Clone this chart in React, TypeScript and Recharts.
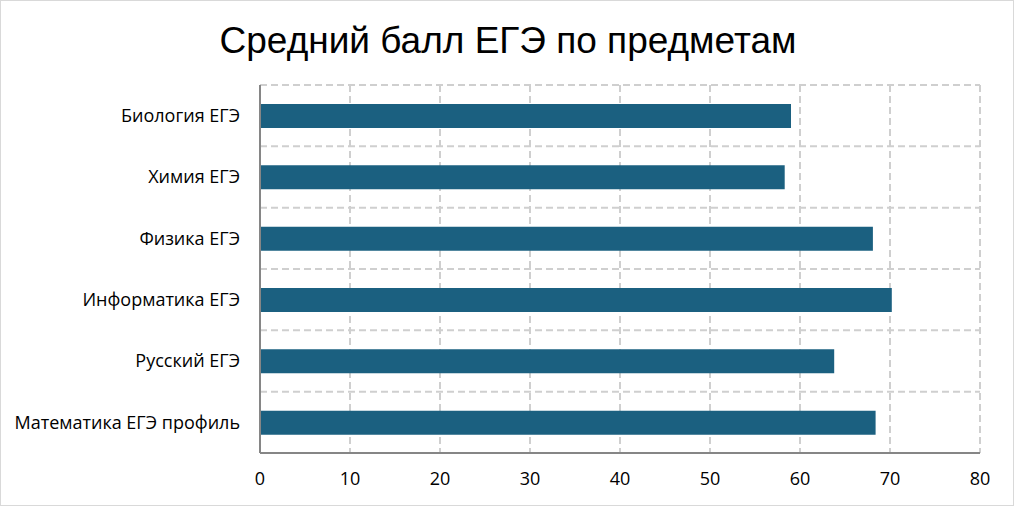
import React from "react";
import { BarChart, Bar, XAxis, YAxis, CartesianGrid } from "recharts";

const categories = [
  "Биология ЕГЭ",
  "Химия ЕГЭ",
  "Физика ЕГЭ",
  "Информатика ЕГЭ",
  "Русский ЕГЭ",
  "Математика ЕГЭ профиль",
];
const scores = [59.0, 58.3, 68.1, 70.2, 63.8, 68.4];
const xTicks = [0, 10, 20, 30, 40, 50, 60, 70, 80];
const title = "Средний балл ЕГЭ по предметам";

const data = categories.map((name, i) => ({ name, value: scores[i] }));

const W = 1014;
const H = 506;

export default function App() {
  return (
    <div
      style={{
        position: "fixed",
        left: 0,
        top: 0,
        width: W,
        height: H,
        background: "#fff",
        boxSizing: "border-box",
        border: "1px solid #d9d9d9",
      }}
    >
      <div
        style={{
          position: "absolute",
          left: 0,
          top: 14,
          width: W,
          textAlign: "center",
          fontFamily: "'Liberation Sans', Arial, sans-serif",
          fontSize: 37,
          color: "#000",
          lineHeight: "52px",
        }}
      >
        {title}
      </div>
      <div style={{ position: "absolute", left: -1, top: -1 }}>
        <BarChart
          width={W}
          height={H}
          data={data}
          layout="vertical"
          margin={{ top: 85, right: 34, left: 0, bottom: 0 }}
          barSize={24}
        >
          <CartesianGrid
            stroke="#cfcfcf"
            strokeWidth={2}
            strokeDasharray="7 4"
            horizontalCoordinatesGenerator={({ offset }: any) =>
              categories.map((_, i) => offset.top + (i * offset.height) / categories.length)
            }
          />
          <XAxis
            type="number"
            domain={[0, 80]}
            ticks={xTicks}
            height={53}
            tickLine={false}
            tickSize={0}
            tickMargin={19}
            axisLine={{ stroke: "#868686", strokeWidth: 2 }}
            tick={{ fill: "#000", fontSize: 18, fontFamily: "'Open Sans', sans-serif" }}
          />
          <YAxis
            type="category"
            dataKey="name"
            width={260}
            tickLine={false}
            tickSize={0}
            tickMargin={20}
            axisLine={{ stroke: "#868686", strokeWidth: 2 }}
            tick={{ fill: "#000", fontSize: 18, fontFamily: "'Open Sans', sans-serif" }}
          />
          <Bar dataKey="value" fill="#1b6080" isAnimationActive={false} />
        </BarChart>
      </div>
    </div>
  );
}
